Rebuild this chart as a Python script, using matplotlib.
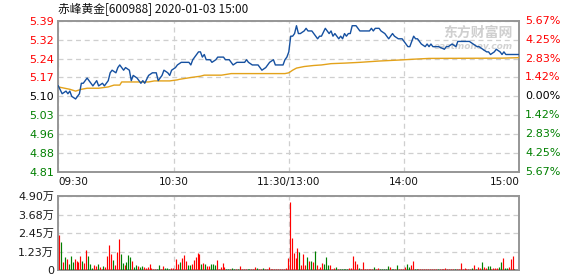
"""
Intraday minute chart (price + average price, volume bars) for 赤峰黄金 600988.
"""

import numpy as np
import matplotlib
matplotlib.use('Agg')
import matplotlib.pyplot as plt
from matplotlib.transforms import blended_transform_factory

plt.rcParams['font.family'] = ['DejaVu Sans', 'Noto Sans CJK SC']

# ── Data ─────────────────────────────────────────────────────────────────────
TITLE = '赤峰黄金[600988] 2020-01-03 15:00'
PREV_CLOSE = 5.10
PCT_MAX = 5.67
TIME_TICKS = [0, 60, 120, 180, 240]
TIME_LABELS = ['09:30', '10:30', '11:30/13:00', '14:00', '15:00']
VOL_MAX = 4.90  # 万
VOL_TICK_LABELS = ['0', '1.23万', '2.45万', '3.68万', '4.90万']

# price vertices (minute index from 09:30, price)
price_min = [0, 2, 4, 5, 6, 7, 9, 11, 12, 13, 15, 17, 18, 20, 21, 23, 24, 25,
             26, 27, 28, 30, 31, 32, 34, 35, 37, 38, 39, 41, 43, 44, 45, 47,
             49, 51, 52, 54, 55, 57, 58, 59, 61, 62, 64, 68, 69, 70, 72, 73,
             74, 75, 76, 77, 79, 80, 82, 83, 86, 87, 89, 91, 93, 97, 98, 99,
             101, 104, 105, 106, 108, 109, 110, 112, 113, 117, 118, 119, 120,
             121, 122, 123, 124, 125, 126, 128, 129, 130, 132, 133, 135, 136,
             137, 139, 140, 141, 142, 143, 144, 146, 147, 148, 149, 150, 151,
             152, 153, 155, 157, 162, 163, 164, 165, 167, 168, 170, 172, 173,
             174, 175, 177, 179, 180, 182, 183, 185, 186, 187, 188, 189, 191,
             192, 193, 194, 195, 197, 198, 201, 202, 203, 205, 207, 208, 210,
             214, 216, 218, 219, 221, 223, 224, 225, 227, 228, 230, 231, 232,
             233, 240]
price_val = [5.14, 5.11, 5.12, 5.11, 5.12, 5.10, 5.09, 5.11, 5.15, 5.15, 5.17,
             5.15, 5.14, 5.16, 5.14, 5.15, 5.14, 5.15, 5.16, 5.19, 5.20, 5.19,
             5.21, 5.22, 5.20, 5.21, 5.20, 5.16, 5.18, 5.17, 5.15, 5.16, 5.15,
             5.18, 5.19, 5.19, 5.16, 5.18, 5.20, 5.19, 5.18, 5.20, 5.21, 5.22,
             5.23, 5.23, 5.22, 5.24, 5.26, 5.27, 5.27, 5.25, 5.26, 5.24, 5.24,
             5.23, 5.24, 5.25, 5.25, 5.24, 5.24, 5.22, 5.23, 5.23, 5.24, 5.23,
             5.22, 5.22, 5.21, 5.20, 5.21, 5.22, 5.23, 5.24, 5.22, 5.22, 5.24,
             5.25, 5.27, 5.33, 5.33, 5.34, 5.37, 5.34, 5.34, 5.35, 5.36, 5.35,
             5.35, 5.34, 5.32, 5.33, 5.33, 5.36, 5.35, 5.34, 5.35, 5.33, 5.34,
             5.32, 5.33, 5.32, 5.34, 5.33, 5.34, 5.34, 5.37, 5.37, 5.35, 5.35,
             5.36, 5.35, 5.36, 5.36, 5.35, 5.34, 5.32, 5.33, 5.34, 5.33, 5.32,
             5.32, 5.31, 5.29, 5.29, 5.33, 5.32, 5.32, 5.31, 5.30, 5.29, 5.30,
             5.29, 5.30, 5.29, 5.29, 5.29, 5.28, 5.29, 5.29, 5.30, 5.29, 5.31,
             5.31, 5.31, 5.30, 5.29, 5.29, 5.28, 5.27, 5.27, 5.26, 5.27, 5.28,
             5.27, 5.26, 5.27, 5.26, 5.26]

# average price vertices
avg_min = [0, 6, 9, 12, 15, 21, 26, 29, 32, 33, 47, 50, 58, 62, 63, 69, 74, 76,
           85, 90, 118, 120, 122, 124, 128, 133, 137, 142, 149, 157, 167, 178,
           185, 193, 231, 240]
avg_val = [5.136, 5.127, 5.120, 5.127, 5.131, 5.131, 5.136, 5.143, 5.143,
           5.155, 5.155, 5.159, 5.159, 5.163, 5.165, 5.172, 5.177, 5.181,
           5.181, 5.187, 5.187, 5.190, 5.200, 5.208, 5.214, 5.218, 5.220,
           5.225, 5.227, 5.230, 5.235, 5.239, 5.242, 5.245, 5.246, 5.248]

# per-minute volume (万), 241 bars, and direction (1 = up/red, 0 = down/green)
vol = [2.32, 1.85, 0.53, 0.86, 0.71, 0.38, 0.93, 0.55, 0.75, 0.60,
       0.53, 0.93, 0.60, 0.49, 1.32, 0.93, 0.38, 0.15, 0.33, 0.26,
       0.38, 0.20, 0.09, 0.26, 0.20, 0.93, 1.66, 1.08, 0.66, 0.33,
       1.19, 2.07, 1.08, 0.49, 0.31, 0.53, 1.02, 0.86, 0.60, 0.22,
       0.33, 0.26, 0.22, 0.26, 0.20, 0.15, 0.22, 0.40, 0.15, 0.09,
       0.09, 0.09, 0.33, 0.09, 0.26, 0.15, 0.15, 0.09, 0.15, 0.15,
       0.09, 0.75, 0.38, 0.53, 0.82, 0.99, 0.60, 0.33, 0.33, 0.42,
       0.66, 0.88, 1.15, 1.08, 0.42, 0.49, 0.38, 0.26, 0.26, 0.38,
       0.40, 0.33, 0.66, 0.09, 0.22, 0.46, 0.22, 0.09, 0.09, 0.09,
       0.15, 0.09, 0.09, 0.09, 0.26, 0.09, 0.09, 0.09, 0.09, 0.09,
       0.09, 0.09, 0.22, 0.15, 0.09, 0.09, 0.15, 0.09, 0.09, 0.22,
       0.09, 0.09, 0.09, 0.09, 0.09, 0.09, 0.09, 0.09, 0.15, 0.82,
       4.50,
       2.14, 1.15, 0.82, 1.48, 1.19, 0.31, 1.08, 0.31, 0.88, 0.60,
       0.60, 0.55, 1.26, 0.35, 0.09, 0.22, 0.49, 0.38, 0.88, 0.31,
       0.35, 0.09, 0.15, 0.22, 0.09, 0.09, 0.09, 0.09, 0.09, 0.09,
       0.15, 0.15, 0.93, 0.60, 0.42, 0.15, 0.09, 0.53, 0.09,
       0.09, 0.09, 0.09, 0.09, 0.20, 0.09, 0.15, 0.09, 0.09, 0.09,
       0.09, 0.26, 0.22, 0.09, 0.09, 0.09, 0.33, 0.09, 0.09, 0.09,
       0.22, 0.38, 0.22, 0.31, 0.60, 0.09, 0.09, 0.09, 0.09, 0.09,
       0.09, 0.09, 0.09, 0.09, 0.09, 0.09, 0.09, 0.09, 0.09, 0.09,
       0.09, 0.15, 0.09, 0.09, 0.09, 0.09, 0.09, 0.09, 0.09, 0.44,
       0.09, 0.15, 0.09, 0.09, 0.09, 0.15, 0.31, 0.09, 0.22, 0.15,
       0.53, 0.22, 0.15, 0.26, 0.26, 0.09, 0.15, 0.15, 0.15, 0.22,
       0.53, 0.82, 0.15, 0.15, 0.22, 0.75, 0.93, 0.09, 0.00, 0.00,
       0.82]
vol_up = [1, 0, 1, 0, 1, 0, 0, 0, 1, 1,
          1, 1, 0, 1, 1, 0, 0, 0, 1, 1,
          0, 1, 1, 0, 1, 1, 1, 1, 0, 1,
          1, 1, 0, 0, 1, 0, 0, 0, 1, 0,
          0, 1, 0, 0, 1, 1, 1, 1, 1, 1,
          1, 0, 0, 1, 1, 0, 0, 0, 1, 1,
          1, 1, 1, 0, 1, 1, 1, 0, 0, 1,
          1, 1, 1, 1, 0, 1, 0, 1, 1, 0,
          0, 0, 1, 1, 1, 1, 1, 0, 0, 1,
          0, 0, 1, 0, 1, 1, 1, 1, 0, 0,
          1, 1, 1, 0, 1, 1, 0, 1, 1, 1,
          1, 1, 1, 1, 1, 1, 1, 1, 1, 1,
          1,
          1, 1, 1, 1, 0, 1, 1, 1, 0, 1,
          0, 1, 0, 1, 1, 1, 1, 0, 0, 0,
          1, 1, 1, 0, 1, 0, 0, 0, 0, 0,
          1, 1, 1, 1, 1, 0, 1, 1, 1,
          1, 1, 1, 1, 0, 1, 1, 0, 0, 0,
          0, 0, 1, 0, 0, 1, 0, 1, 1, 1,
          1, 0, 0, 1, 1, 0, 0, 1, 1, 1,
          1, 1, 1, 1, 1, 1, 1, 0, 1, 1,
          1, 1, 1, 1, 1, 1, 0, 1, 1, 1,
          1, 1, 1, 1, 1, 0, 1, 0, 1, 1,
          0, 1, 1, 0, 0, 1, 1, 1, 1, 0,
          0, 1, 0, 0, 1, 1, 1, 0, 1, 1,
          1]

# ── Styling ──────────────────────────────────────────────────────────────────
RED = '#ff0000'
GREEN = '#008000'
BLUE = '#1550a0'
GOLD = '#e3a21a'
FRAME = '#969696'
GRID = '#cfcfcf'

W, H = 578, 276
fig = plt.figure(figsize=(W / 100, H / 100), dpi=100)
x0, x1 = 58.3, 519.3
ax = fig.add_axes([x0 / W, 1 - 172 / H, (x1 - x0) / W, (172 - 20.7) / H])
axv = fig.add_axes([x0 / W, 1 - 270 / H, (x1 - x0) / W, (270 - 196) / H])

fig.text(x0 / W, 1 - 9 / H, TITLE, fontsize=8.5, color='#111111',
         va='center', ha='left',
         family=['Noto Sans CJK SC', 'DejaVu Sans'])

def frame(a):
    for s in a.spines.values():
        s.set_color(FRAME)
        s.set_linewidth(1.4)
    a.tick_params(length=0)
    a.grid(True, color=GRID, linestyle=(0, (4, 3)), linewidth=0.9)
    a.set_axisbelow(True)

# ── Price panel ──────────────────────────────────────────────────────────────
dev = PREV_CLOSE * PCT_MAX / 100
ax.set_xlim(0, 240)
ax.set_ylim(PREV_CLOSE - dev, PREV_CLOSE + dev)
frame(ax)

steps = np.arange(-4, 5)
yt = PREV_CLOSE + steps * dev / 4
ax.set_yticks(yt)
ax.set_yticklabels([f'{v:.2f}' for v in yt], fontsize=8)
ax.tick_params(axis='y', pad=3)
trans_r = blended_transform_factory(ax.transAxes, ax.transData)
for k, (lab, v) in zip(steps, zip(ax.get_yticklabels(), yt)):
    c = RED if k > 0 else (GREEN if k < 0 else 'black')
    lab.set_color(c)
    ax.text(1.013, v, f'{abs(k) * PCT_MAX / 4:.2f}%', transform=trans_r,
            fontsize=8, color=c, va='center', ha='left')

ax.set_xticks(TIME_TICKS)
ax.set_xticklabels([])
trans_x = blended_transform_factory(ax.transData, ax.transAxes)
for t, lab, ha in zip(TIME_TICKS, TIME_LABELS,
                      ['left', 'center', 'center', 'center', 'right']):
    ax.text(t, -0.035, lab, transform=trans_x, fontsize=7.5,
            color='#111111', ha=ha, va='top')

ax.text(0.985, 0.92, '东方财富网', transform=ax.transAxes, fontsize=10,
        fontweight='bold', color='#cfcfcf', ha='right', va='center',
        family=['Noto Sans CJK SC'], zorder=0.5)
ax.text(0.985, 0.83, 'eastmoney.com', transform=ax.transAxes, fontsize=6.5,
        fontweight='bold', style='italic', color='#d2d2d2', ha='right',
        va='center', zorder=0.5)

ax.plot(avg_min, avg_val, color=GOLD, linewidth=1.0, zorder=3)
ax.plot(price_min, price_val, color=BLUE, linewidth=1.0, zorder=4)

# ── Volume panel ─────────────────────────────────────────────────────────────
axv.set_xlim(0, 240)
axv.set_ylim(0, VOL_MAX)
frame(axv)
axv.set_xticks(TIME_TICKS)
axv.set_xticklabels([])
vt = [VOL_MAX * k / 4 for k in range(5)]
axv.set_yticks(vt)
axv.set_yticklabels(VOL_TICK_LABELS, fontsize=8, color='#1a1a1a')
axv.tick_params(axis='y', pad=3)

bar_x = np.arange(len(vol)) + 0.5
bar_c = [RED if u else GREEN for u in vol_up]
axv.vlines(bar_x, 0, vol, colors=bar_c, linewidth=0.85, zorder=3)

fig.savefig('out.png', dpi=100)
plt.close(fig)
